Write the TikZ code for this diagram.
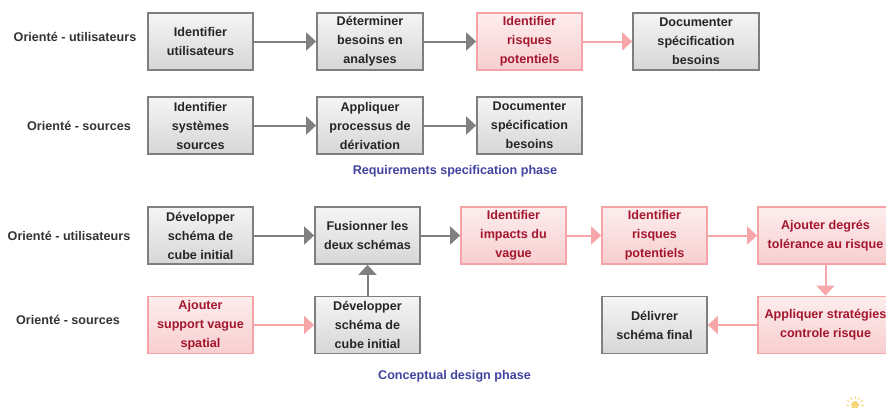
\documentclass[tikz,border=0pt]{standalone}
\usepackage{fontspec}
\setmainfont{Liberation Sans}
\usetikzlibrary{arrows.meta}
\definecolor{boxgray}{HTML}{7F7F7F}
\definecolor{gtop}{HTML}{F5F5F5}
\definecolor{gbot}{HTML}{D6D6D6}
\definecolor{pinkline}{HTML}{F5A3A7}
\definecolor{ptop}{HTML}{FDEDED}
\definecolor{pbot}{HTML}{F8CED0}
\definecolor{pinktext}{HTML}{A3162E}
\definecolor{arrgray}{HTML}{808080}
\definecolor{pinkarr}{HTML}{F7A6A9}
\definecolor{phaseblue}{HTML}{4343A0}
\definecolor{suncol}{HTML}{F6D77E}
\tikzset{
  txt/.style={font=\bfseries\fontsize{12.6}{19}\selectfont},
  gbox/.style={txt, draw=boxgray, line width=1.8pt, top color=gtop, bottom color=gbot,
    minimum height=57pt, align=center, inner sep=0pt, text=black!85},
  pbox/.style={gbox, draw=pinkline, top color=ptop, bottom color=pbot, text=pinktext},
  garr/.style={draw=arrgray, line width=2pt, -{Triangle[length=10pt,width=18pt]}},
  parr/.style={garr, draw=pinkarr},
  lab/.style={txt, text=black!80},
  phase/.style={txt, text=phaseblue}
}
\begin{document}
\begin{tikzpicture}[x=1pt,y=-1pt]
\useasboundingbox[fill=white] (0,0) rectangle (886,407);
% Requirements specification phase
\node[lab] (l1) at (75,37) {Orienté - utilisateurs};
\node[lab] (l2) at (79,126) {Orienté - sources};
\node[gbox, minimum width=105pt] (a1) at (200.5,41.5) {Identifier\\utilisateurs};
\node[gbox, minimum width=106pt] (a2) at (370,41.5) {Déterminer\\besoins en\\analyses};
\node[pbox, minimum width=105pt] (a3) at (529.5,41.5) {Identifier\\risques\\potentiels};
\node[gbox, minimum width=126pt] (a4) at (696,41.5) {Documenter\\spécification\\besoins};
\node[gbox, minimum width=105pt] (b1) at (200.5,125.5) {Identifier\\systèmes\\sources};
\node[gbox, minimum width=106pt] (b2) at (370,125.5) {Appliquer\\processus de\\dérivation};
\node[gbox, minimum width=105pt] (b3) at (529.5,125.5) {Documenter\\spécification\\besoins};
\node[phase] (p1) at (455,171) {Requirements specification phase};
\draw[garr] (a1) -- (a2);
\draw[garr] (a2) -- (a3);
\draw[parr] (a3) -- (a4);
\draw[garr] (b1) -- (b2);
\draw[garr] (b2) -- (b3);
% Conceptual design phase
\node[lab] (l3) at (69,236) {Orienté - utilisateurs};
\node[lab] (l4) at (68,320) {Orienté - sources};
\node[gbox, minimum width=105pt] (c1) at (200.5,235.5) {Développer\\schéma de\\cube initial};
\node[gbox, minimum width=105pt] (c2) at (367.5,235.5) {Fusionner les\\deux schémas};
\node[pbox, minimum width=105pt] (c3) at (513.5,235.5) {Identifier\\impacts du\\vague};
\node[pbox, minimum width=105pt] (c4) at (654.5,235.5) {Identifier\\risques\\potentiels};
\node[pbox, minimum width=135pt] (c5) at (825.5,235.5) {Ajouter degrés\\tolérance au risque};
\node[pbox, minimum width=105pt] (d1) at (200.5,325) {Ajouter\\support vague\\spatial};
\node[gbox, minimum width=105pt] (d2) at (367.5,325) {Développer\\schéma de\\cube initial};
\node[gbox, minimum width=105pt] (d3) at (654.5,325) {Délivrer\\schéma final};
\node[pbox, minimum width=135pt] (d4) at (825.5,325) {Appliquer stratégies\\controle risque};
\node[phase] (p2) at (454.5,376) {Conceptual design phase};
\draw[garr] (c1) -- (c2);
\draw[garr] (c2) -- (c3);
\draw[parr] (c3) -- (c4);
\draw[parr] (c4) -- (c5);
\draw[parr] (c5) -- (d4);
\draw[parr] (d4) -- (d3);
\draw[parr] (d1) -- (d2);
\draw[garr] (d2) -- (c2);
% small sun decoration
\fill[suncol] (855,405) circle (4);
\foreach \a in {0,30,...,330} \draw[suncol, line width=0.9pt] (855,405) ++(\a:6) -- ++(\a:3);
\end{tikzpicture}
\end{document}
